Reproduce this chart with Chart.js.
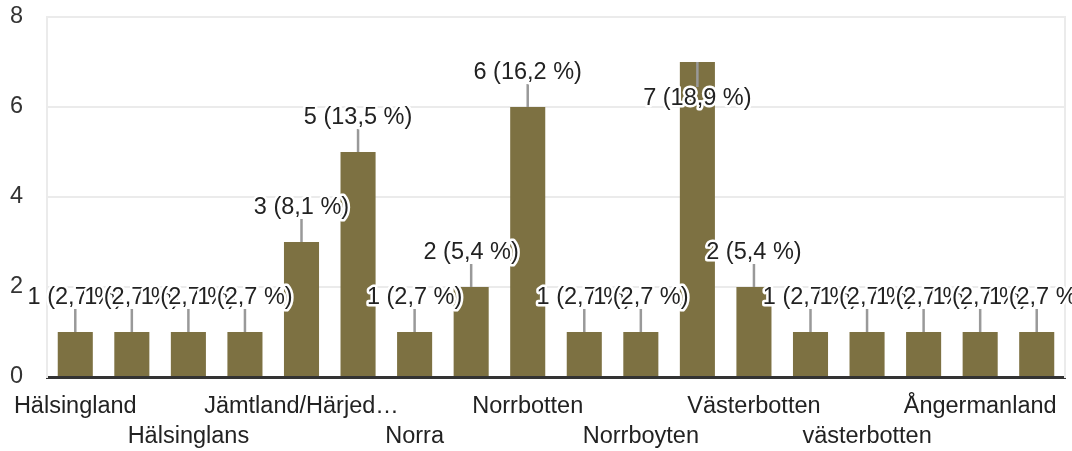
<!DOCTYPE html>
<html>
<head>
<meta charset="utf-8">
<script src="https://cdn.jsdelivr.net/npm/chart.js@4/dist/chart.umd.min.js"></script>
<style>
  html,body{margin:0;padding:0;background:#fff;}
  #wrap{width:1072px;height:451px;position:relative;}
</style>
</head>
<body>
<div id="wrap"><canvas id="chart"></canvas></div>
<script>
// categories (only every other one is legible in the source, the rest are unknown)
const CATEGORIES = [
  "Hälsingland", "", "Hälsinglans", "", "Jämtland/Härjedalen", "",
  "Norra", "", "Norrbotten", "", "Norrboyten", "",
  "Västerbotten", "", "västerbotten", "", "Ångermanland", ""
];
const COUNTS = [1, 1, 1, 1, 3, 5, 1, 2, 6, 1, 1, 7, 2, 1, 1, 1, 1, 1];
const Y_TICKS = [0, 2, 4, 6, 8];

const FONT = "'Liberation Sans', Arial, sans-serif";
const FS = 23.5;
const BAR_COLOR = "#7d7142";
const TOTAL = COUNTS.reduce((a, b) => a + b, 0);

function fmtLabel(v) {
  const pct = (v / TOTAL * 100).toFixed(1).replace(".", ",");
  return `${v} (${pct} %)`;
}

const leaderLabels = {
  id: "leaderLabels",
  afterDatasetsDraw(chart) {
    const ctx = chart.ctx;
    const meta = chart.getDatasetMeta(0);
    const top = chart.chartArea.top;
    ctx.save();
    ctx.font = `${FS}px ${FONT}`;
    ctx.textAlign = "center";
    ctx.textBaseline = "middle";
    meta.data.forEach((bar, i) => {
      const x = bar.x, y = bar.y;
      let y1 = y - 23, ty = y - 34;
      if (y - 34 < top + 30) { y1 = y + 25; ty = y + 37; }
      ctx.strokeStyle = "#999";
      ctx.lineWidth = 2.5;
      ctx.beginPath();
      ctx.moveTo(x, y);
      ctx.lineTo(x, y1);
      ctx.stroke();
      const txt = fmtLabel(COUNTS[i]);
      ctx.lineJoin = "round";
      ctx.lineWidth = 5;
      ctx.strokeStyle = "#fff";
      ctx.strokeText(txt, x, ty);
      ctx.fillStyle = "#222";
      ctx.fillText(txt, x, ty);
    });
    ctx.restore();
  }
};

new Chart(document.getElementById("chart"), {
  type: "bar",
  data: {
    labels: CATEGORIES,
    datasets: [{
      data: COUNTS,
      backgroundColor: BAR_COLOR,
      barPercentage: 0.62,
      categoryPercentage: 1
    }]
  },
  options: {
    responsive: true,
    maintainAspectRatio: false,
    animation: false,
    layout: { padding: { top: 17, left: 10, right: 0, bottom: 0 } },
    plugins: { legend: { display: false }, tooltip: { enabled: false } },
    scales: {
      x: {
        grid: { display: false },
        border: { color: "#333", width: 3 },
        afterFit: s => { s.height = 74; },
        ticks: {
          autoSkip: false,
          maxRotation: 0,
          padding: 6,
          color: "#222",
          font: { family: FONT, size: FS, lineHeight: 1.28 },
          callback: (v, i) => {
            if (i % 2 === 1) return "";
            let lab = CATEGORIES[i];
            if (lab.length > 15) lab = lab.slice(0, 15) + "…";
            return i % 4 === 2 ? ["", lab] : [lab];
          }
        }
      },
      y: {
        min: 0,
        max: 8,
        afterBuildTicks: s => { s.ticks = Y_TICKS.map(v => ({ value: v })); },
        afterFit: s => { s.width = 37; },
        grid: { color: "#ebebeb", lineWidth: 2, drawTicks: false },
        border: { color: "#ebebeb", width: 2 },
        ticks: {
          crossAlign: "far",
          padding: 0,
          color: "#333",
          font: { family: FONT, size: FS }
        }
      },
      yr: {
        position: "right",
        min: 0,
        max: 8,
        afterFit: s => { s.width = 7; },
        grid: { display: false },
        border: { color: "#ebebeb", width: 2 },
        ticks: { display: false }
      }
    }
  },
  plugins: [leaderLabels]
});
</script>
</body>
</html>
